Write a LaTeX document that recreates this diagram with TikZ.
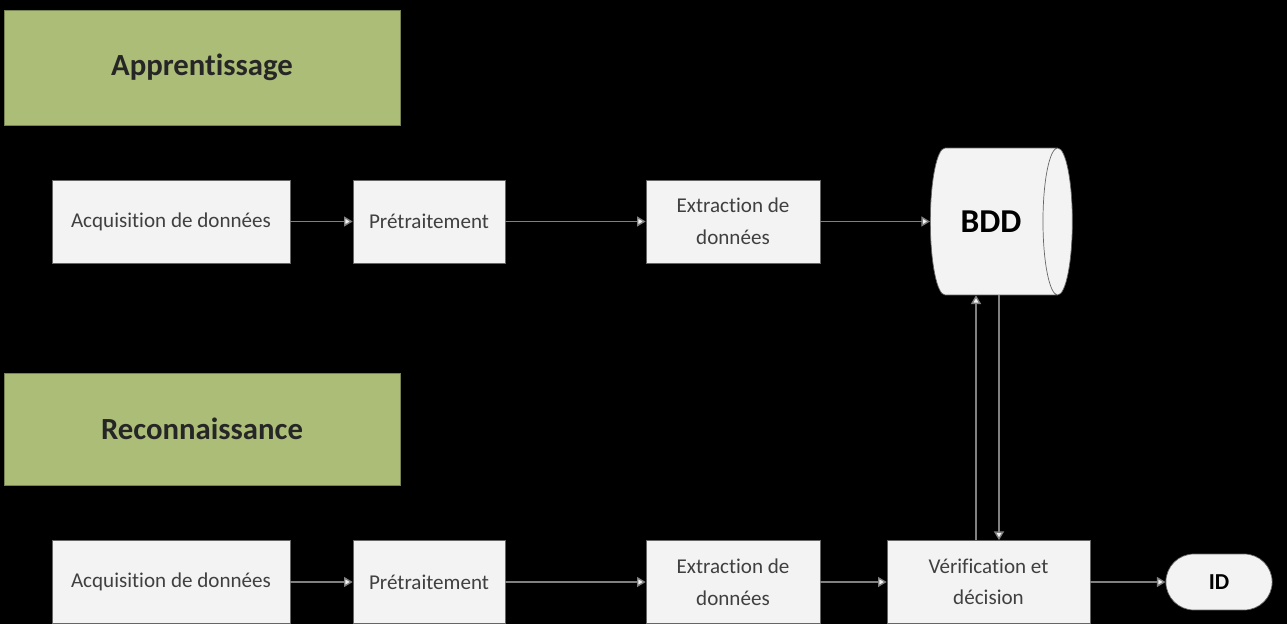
\documentclass[tikz,border=0pt]{standalone}
\usepackage{fontspec}
\setmainfont{Carlito}[Ligatures=NoCommon]
\usetikzlibrary{shapes.geometric}
\usetikzlibrary{shapes.misc}
\usetikzlibrary{arrows.meta}

\definecolor{phasegreen}{RGB}{172,189,120}
\definecolor{boxfill}{RGB}{243,243,243}
\definecolor{boxtext}{RGB}{64,64,64}
\definecolor{linkgray}{RGB}{128,128,128}

\begin{document}
\begin{tikzpicture}[x=0.02cm,y=-0.02cm,
    phase/.style = {rectangle,draw=phasegreen!70!black,fill=phasegreen,minimum width=7.92cm,
                    text=black!85,font=\fontsize{17.5}{21}\bfseries},
    stepbox/.style = {rectangle,draw=black!60,fill=boxfill,minimum height=1.66cm,
                      text=boxtext,align=center,font=\fontsize{12}{18}\selectfont},
    flow/.style = {draw=linkgray,line width=0.8pt,
                   arrows = -{Triangle[open, angle=60:2mm,fill=boxfill]}}]

            % background and page size
            \fill[black] (0,0) rectangle (1287,624);
            \useasboundingbox (0,0) rectangle (1287,624);

            \path   (202,67.5) node (learn) [phase,minimum height=2.3cm] {Apprentissage}
                    (202,429) node (recog) [phase,minimum height=2.24cm] {Reconnaissance};

            \path   (171,221.5) node (acqA) [stepbox,minimum width=4.76cm] {Acquisition de données}
                    (429,221.5) node (preA) [stepbox,minimum width=3.04cm] {Prétraitement}
                    (733,221.5) node (extA) [stepbox,minimum width=3.48cm] {Extraction de\\données}
                    (930,221.5) node (bdd) [cylinder,anchor=west,draw=black!60,fill=boxfill,aspect=0.88,
                                            minimum width=2.94cm,minimum height=2.84cm,
                                            text=black,font=\fontsize{19}{22}\bfseries] {BDD};

            \path   (171,582) node (acqB) [stepbox,minimum width=4.76cm] {Acquisition de données}
                    (429,582) node (preB) [stepbox,minimum width=3.04cm] {Prétraitement}
                    (733,582) node (extB) [stepbox,minimum width=3.48cm] {Extraction de\\données}
                    (988.5,582) node (verif) [stepbox,minimum width=4.06cm] {Vérification et\\décision}
                    (1219,582) node (id) [rounded rectangle,draw=black!60,fill=boxfill,
                                          minimum width=2.36cm,minimum height=1.12cm,
                                          text=black,font=\fontsize{13}{15}\bfseries] {ID};

            \draw[flow] (acqA) -- (preA);
            \draw[flow] (preA) -- (extA);
            \draw[flow] (extA) -- (bdd);

            \draw[flow] (acqB) -- (preB);
            \draw[flow] (preB) -- (extB);
            \draw[flow] (extB) -- (verif);
            \draw[flow] (verif) -- (id);

            \draw[flow] ([xshift=-0.25cm]verif.north) -- ([xshift=-0.25cm]verif.north |- bdd.south);
            \draw[flow] ([xshift=0.21cm]verif.north |- bdd.south) -- ([xshift=0.21cm]verif.north);

\end{tikzpicture}
\end{document}
